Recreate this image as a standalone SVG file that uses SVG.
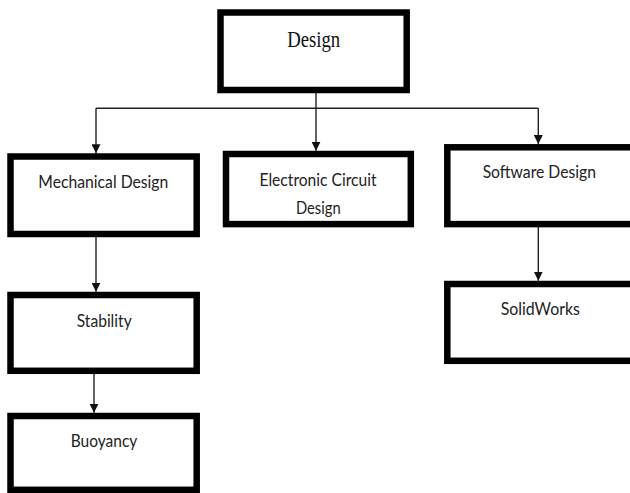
<svg xmlns="http://www.w3.org/2000/svg" width="630" height="493" viewBox="0 0 630 493">
<style>
.box{fill:#fff;stroke:#000;stroke-width:6.5}
.lbl{font-family:Lato,"Open Sans","Liberation Sans",sans-serif;font-size:17.5px;fill:#222;text-anchor:middle}
.ttl{font-family:"Liberation Serif","Times New Roman",serif;font-size:23px;fill:#111;text-anchor:middle}
.cn{fill:none;stroke:#222;stroke-width:1.4}
</style>
<defs>
<marker id="ah" markerUnits="userSpaceOnUse" markerWidth="10" markerHeight="9" refX="9" refY="4.5" orient="auto">
<path d="M0,0 L9,4.5 L0,9 Z" fill="#111"/>
</marker>
</defs>
<rect width="630" height="493" fill="#fff"/>
<g id="connectors">
<path class="cn" d="M316,93 V150.7" marker-end="url(#ah)"/>
<path class="cn" d="M96,108.3 H538.3"/>
<path class="cn" d="M96,108.3 V153.3" marker-end="url(#ah)"/>
<path class="cn" d="M538.3,108.3 V144" marker-end="url(#ah)"/>
<path class="cn" d="M538.3,227 V280.7" marker-end="url(#ah)"/>
<path class="cn" d="M96,237 V291.7" marker-end="url(#ah)"/>
<path class="cn" d="M94,374 V412.7" marker-end="url(#ah)"/>
</g>
<g id="design">
<rect class="box" x="220.5" y="12.5" width="186.2" height="77.5"/>
<text class="ttl" x="313.7" y="46.7" textLength="53" lengthAdjust="spacingAndGlyphs">Design</text>
</g>
<g id="mechanical">
<rect class="box" x="10.5" y="156.5" width="186.2" height="77.5"/>
<text class="lbl" x="103.3" y="188" textLength="130" lengthAdjust="spacingAndGlyphs">Mechanical Design</text>
</g>
<g id="electronic">
<rect class="box" x="226" y="154" width="184.8" height="70.1"/>
<text class="lbl" x="318" y="185.7" textLength="117" lengthAdjust="spacingAndGlyphs">Electronic Circuit</text>
<text class="lbl" x="318.3" y="214" textLength="44.7" lengthAdjust="spacingAndGlyphs">Design</text>
</g>
<g id="software">
<rect class="box" x="447.3" y="147.3" width="200" height="76.8"/>
<text class="lbl" x="539.3" y="178.3" textLength="113.3" lengthAdjust="spacingAndGlyphs">Software Design</text>
</g>
<g id="solidworks">
<rect class="box" x="447.3" y="284" width="200" height="76.8"/>
<text class="lbl" x="540.3" y="315" textLength="79.3" lengthAdjust="spacingAndGlyphs">SolidWorks</text>
</g>
<g id="stability">
<rect class="box" x="10.5" y="295" width="186.2" height="75.8"/>
<text class="lbl" x="104.2" y="326.7" textLength="55" lengthAdjust="spacingAndGlyphs">Stability</text>
</g>
<g id="buoyancy">
<rect class="box" x="10.5" y="416" width="186.2" height="73.8"/>
<text class="lbl" x="104" y="446.7" textLength="66.7" lengthAdjust="spacingAndGlyphs">Buoyancy</text>
</g>
</svg>
